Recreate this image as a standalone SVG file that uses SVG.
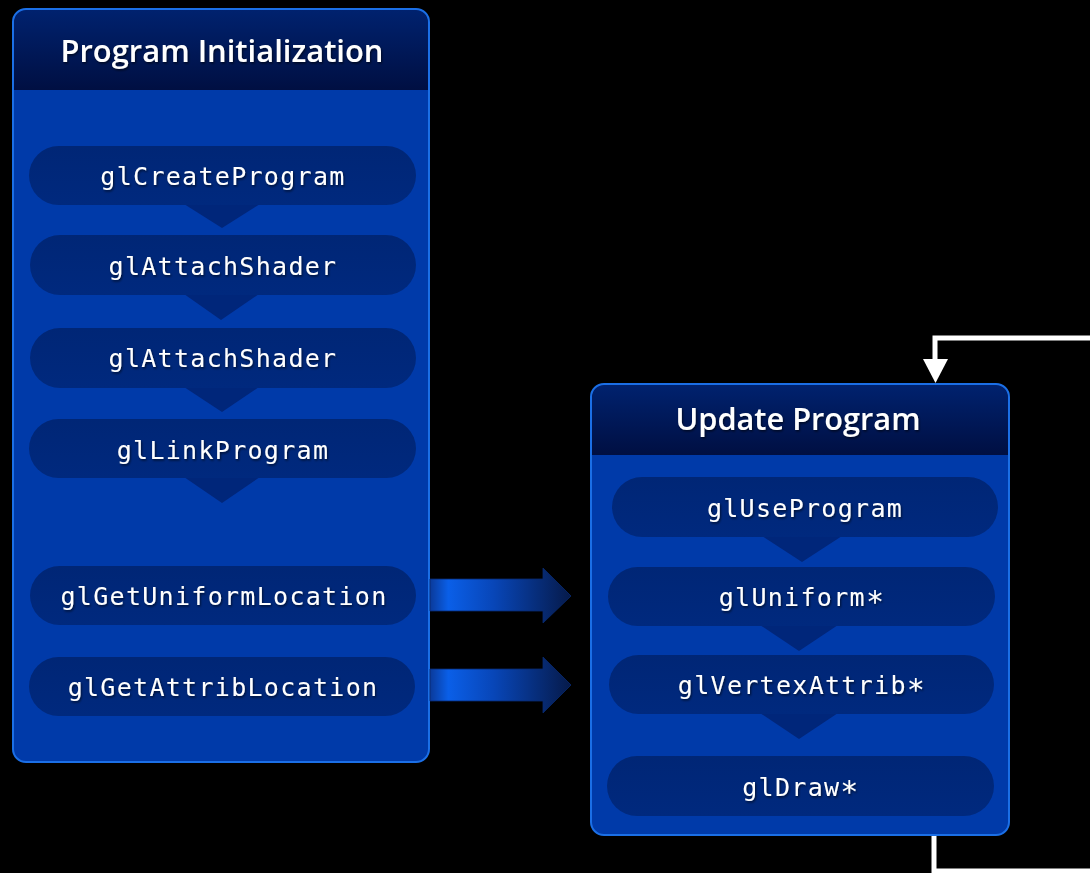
<svg xmlns="http://www.w3.org/2000/svg" width="1090" height="873" viewBox="0 0 1090 873">
<defs>
<linearGradient id="hdr" x1="0" y1="0" x2="0" y2="1">
<stop offset="0" stop-color="#00226f"/>
<stop offset="1" stop-color="#000f42"/>
</linearGradient>
<linearGradient id="blk" x1="0" y1="0" x2="1" y2="0">
<stop offset="0" stop-color="#0a3a9a"/>
<stop offset="0.13" stop-color="#0a5fe8"/>
<stop offset="0.45" stop-color="#0846b8"/>
<stop offset="1" stop-color="#061a4a"/>
</linearGradient>
<linearGradient id="pillg" x1="0" y1="0" x2="0" y2="1">
<stop offset="0" stop-color="#002676"/>
<stop offset="1" stop-color="#00297e"/>
</linearGradient>
<clipPath id="clipL"><rect x="13" y="9" width="416" height="753" rx="13"/></clipPath>
<clipPath id="clipR"><rect x="591" y="384" width="418" height="451" rx="13"/></clipPath>
<filter id="ts" x="-5%" y="-20%" width="110%" height="140%">
<feDropShadow dx="1" dy="1.5" stdDeviation="0.8" flood-color="#000" flood-opacity="0.6"/>
</filter>
</defs>
<style>
.body{fill:#003aa9}
.hdr{fill:url(#hdr)}
.frame{fill:none;stroke:#1b6fe6;stroke-width:2}
.pill{fill:url(#pillg)}
.tail{fill:#00267a}
.mono{font-family:"DejaVu Sans Mono","Liberation Mono",monospace;font-size:25px;letter-spacing:1.3px;fill:#ffffff;text-anchor:middle;filter:url(#ts)}
.ast{font-size:30px}
.title{font-family:"Open Sans","Liberation Sans",sans-serif;font-weight:600;font-size:31px;fill:#ffffff;text-anchor:middle;filter:url(#ts)}
.fb{fill:none;stroke:#ffffff;stroke-width:5}
.blk{fill:url(#blk);stroke:#072a70;stroke-width:0.8}
</style>
<rect x="0" y="0" width="1090" height="873" fill="#000"/>

<g id="program-initialization">
<g clip-path="url(#clipL)">
<rect class="body" x="13" y="9" width="416" height="753"/>
<rect class="hdr" x="13" y="9" width="416" height="81"/>
</g>
<rect class="frame" x="13" y="9" width="416" height="753" rx="13"/>
<text class="title" x="222" y="62" textLength="323" lengthAdjust="spacingAndGlyphs">Program Initialization</text>
</g>

<g id="update-program">
<g clip-path="url(#clipR)">
<rect class="body" x="591" y="384" width="418" height="451"/>
<rect class="hdr" x="591" y="384" width="418" height="71"/>
</g>
<rect class="frame" x="591" y="384" width="418" height="451" rx="13"/>
<text class="title" x="798" y="430" textLength="245" lengthAdjust="spacingAndGlyphs">Update Program</text>
</g>

<g id="connectors">
<polygon class="tail" points="184,204 260,204 222,228"/>
<polygon class="tail" points="184,294 259,294 221,320"/>
<polygon class="tail" points="184,387 259,387 222,412"/>
<polygon class="tail" points="184,477 260,477 222,503"/>
<polygon class="tail" points="762,536 842,536 802,562"/>
<polygon class="tail" points="760,625 838,625 799,651"/>
<polygon class="tail" points="760,713 838,713 799,739"/>
<polygon class="blk" points="430,579 543,579 543,568 571,596 543,623 543,611 430,611"/>
<polygon class="blk" points="430,669 543,669 543,657 571,685 543,713 543,701 430,701"/>
<polyline class="fb" points="1090,338 935,338 935,360"/>
<polygon points="923,359 948,359 935.5,383" fill="#ffffff"/>
<polyline class="fb" points="934,836 934,871 1090,871"/>
</g>

<g id="glCreateProgram">
<rect class="pill" x="29" y="146" width="387" height="59" rx="29.5"/>
<text class="mono" x="223" y="185">glCreateProgram</text>
</g>
<g id="glAttachShader-1">
<rect class="pill" x="30" y="235" width="386" height="60" rx="30"/>
<text class="mono" x="223" y="275">glAttachShader</text>
</g>
<g id="glAttachShader-2">
<rect class="pill" x="30" y="328" width="386" height="60" rx="30"/>
<text class="mono" x="223" y="367">glAttachShader</text>
</g>
<g id="glLinkProgram">
<rect class="pill" x="29" y="419" width="387" height="59" rx="29.5"/>
<text class="mono" x="223" y="459">glLinkProgram</text>
</g>
<g id="glGetUniformLocation">
<rect class="pill" x="30" y="566" width="386" height="59" rx="29.5"/>
<text class="mono" x="224" y="605">glGetUniformLocation</text>
</g>
<g id="glGetAttribLocation">
<rect class="pill" x="29" y="657" width="386" height="59" rx="29.5"/>
<text class="mono" x="223" y="696">glGetAttribLocation</text>
</g>

<g id="glUseProgram">
<rect class="pill" x="612" y="477" width="386" height="60" rx="30"/>
<text class="mono" x="805" y="517">glUseProgram</text>
</g>
<g id="glUniform">
<rect class="pill" x="608" y="567" width="387" height="59" rx="29.5"/>
<text class="mono" x="802" y="606">glUniform<tspan class="ast" dy="6">*</tspan></text>
</g>
<g id="glVertexAttrib">
<rect class="pill" x="609" y="655" width="385" height="59" rx="29.5"/>
<text class="mono" x="802" y="694">glVertexAttrib<tspan class="ast" dy="6">*</tspan></text>
</g>
<g id="glDraw">
<rect class="pill" x="607" y="756" width="387" height="60" rx="30"/>
<text class="mono" x="801" y="796">glDraw<tspan class="ast" dy="6">*</tspan></text>
</g>
</svg>
